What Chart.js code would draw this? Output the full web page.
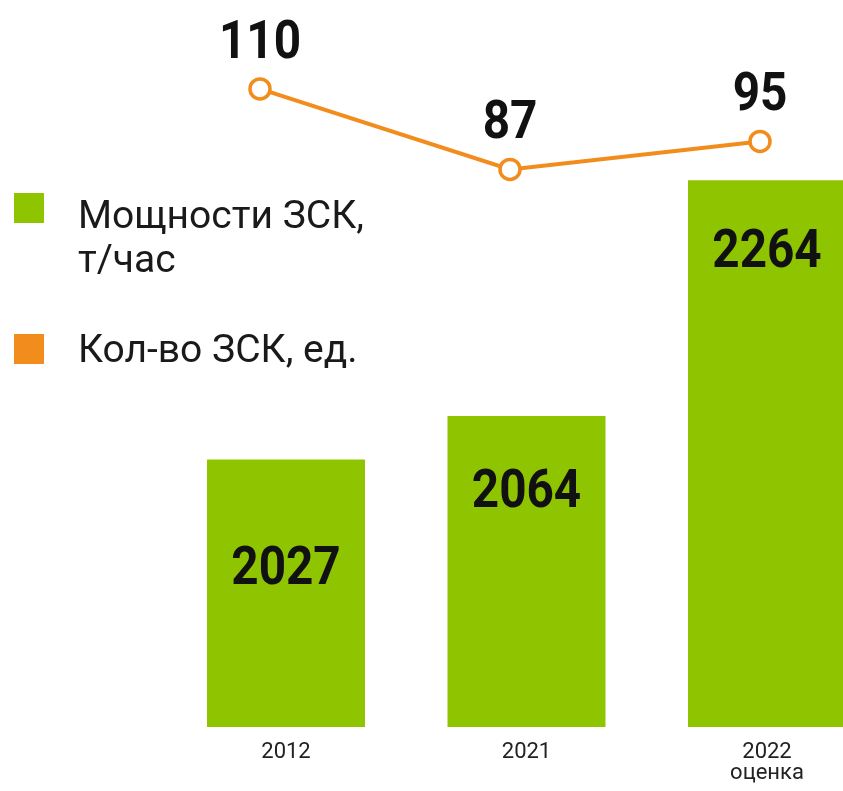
<!DOCTYPE html>
<html><head><meta charset="utf-8">
<script src="https://cdn.jsdelivr.net/npm/chart.js@4.4.1/dist/chart.umd.min.js"></script>
<style>
html,body{margin:0;padding:0;background:#fff;overflow:hidden;width:843px;height:791px;}
#wrap{position:absolute;left:0;top:0;width:900px;height:791px;}
#legend{position:absolute;left:0;top:0;font-family:Roboto,sans-serif;color:#1a1a1a;}
.sw{position:absolute;left:14px;width:30px;height:30px;}
.tx{position:absolute;left:78px;font-size:39px;line-height:44px;white-space:pre;}
</style></head>
<body>
<div id="wrap"><canvas id="c"></canvas></div>
<div id="legend"></div>
<script>
// ---- data ----
const categories = ['2012', '2021', '2022'];
const categoryNotes = ['', '', 'оценка'];
const capacityLabel = 'Мощности ЗСК,\nт/час';
const capacity = [2027, 2064, 2264];
const countLabel = 'Кол-во ЗСК, ед.';
const counts = [110, 87, 95];

// ---- styles ----
const GREEN = '#8FC500';
const ORANGE = '#F28C1C';
const barLabelOffsets = [106, 72, 68];   // label centre below bar top
const lineLabelOffset = 50;              // label centre above point
const legendPos = [{sq:193, tx:193}, {sq:334, tx:327}];

const tickLabels = categories.map((c, i) => categoryNotes[i] ? [c, categoryNotes[i]] : c);

const valueLabels = {
  id: 'valueLabels',
  afterDatasetsDraw(chart) {
    const ctx = chart.ctx;
    const size = 53;
    chart.data.datasets.forEach((ds, di) => {
      const meta = chart.getDatasetMeta(di);
      meta.data.forEach((el, i) => {
        const v = ds.type === 'bar' ? ds.data[i] : ds.data[i].y;
        const cy = ds.type === 'bar' ? el.y + barLabelOffsets[i] : el.y - lineLabelOffset;
        ctx.save();
        ctx.translate(el.x, cy + size * 0.711 / 2);
        ctx.scale(0.9, 1);
        ctx.font = 'bold ' + size + 'px Roboto';
        ctx.fillStyle = '#111';
        ctx.textAlign = 'center';
        ctx.textBaseline = 'alphabetic';
        ctx.fillText(String(v), 0, 0);
        ctx.restore();
      });
    });
  }
};

const chart = new Chart(document.getElementById('c'), {
  data: {
    labels: tickLabels,
    datasets: [
      {
        type: 'line',
        label: countLabel,
        data: counts.map((v, i) => ({x: i, y: v})),
        xAxisID: 'x2',
        yAxisID: 'y2',
        borderColor: ORANGE,
        borderWidth: 4,
        backgroundColor: ORANGE,
        pointRadius: 10,
        pointBorderWidth: 3.5,
        pointBackgroundColor: '#fff',
        pointBorderColor: ORANGE,
        tension: 0,
        clip: false,
        order: 0
      },
      {
        type: 'bar',
        label: capacityLabel,
        data: capacity,
        xAxisID: 'x',
        yAxisID: 'y',
        backgroundColor: GREEN,
        grouped: false,
        categoryPercentage: 1,
        barPercentage: 0.657,
        order: 1
      }
    ]
  },
  options: {
    responsive: true,
    maintainAspectRatio: false,
    animation: false,
    layout: {autoPadding: false, padding: {left: 165.75, right: 12.75, top: 0, bottom: 0}},
    plugins: {legend: {display: false}, tooltip: {enabled: false}},
    scales: {
      x: {
        type: 'category',
        offset: true,
        grid: {display: false, drawTicks: false},
        border: {display: false},
        ticks: {
          color: '#222',
          font: {family: 'Roboto', size: 22, lineHeight: 0.95},
          padding: 15,
          maxRotation: 0,
          autoSkip: false
        },
        afterFit(s) { s.height = 64; }
      },
      x2: {
        type: 'linear',
        display: false,
        min: -0.377,
        max: 2.509
      },
      y: {
        display: false,
        min: 1800,
        max: 2417
      },
      y2: {
        display: false,
        min: -72.3,
        max: 135.4
      }
    }
  },
  plugins: [valueLabels]
});

// HTML legend built from dataset labels
const legend = document.getElementById('legend');
[chart.data.datasets[1], chart.data.datasets[0]].forEach((ds, i) => {
  const sq = document.createElement('div');
  sq.className = 'sw';
  sq.style.top = legendPos[i].sq + 'px';
  sq.style.background = ds.type === 'bar' ? ds.backgroundColor : ds.borderColor;
  const tx = document.createElement('div');
  tx.className = 'tx';
  tx.style.top = legendPos[i].tx + 'px';
  tx.textContent = ds.label;
  legend.appendChild(sq);
  legend.appendChild(tx);
});
</script>
</body></html>
